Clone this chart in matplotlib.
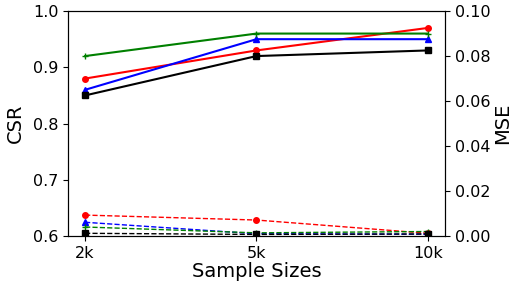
import matplotlib
matplotlib.use("Agg")
import matplotlib.pyplot as plt

sizes = ["2k", "5k", "10k"]

# CSR (left axis, solid)
csr_red = [0.88, 0.93, 0.97]
csr_blue = [0.86, 0.95, 0.95]
csr_green = [0.92, 0.96, 0.96]
csr_black = [0.85, 0.92, 0.93]

# MSE (right axis, dashed)
mse_red = [0.0093, 0.0071, 0.0012]
mse_blue = [0.0061, 0.0010, 0.0008]
mse_green = [0.0040, 0.0014, 0.0020]
mse_black = [0.0012, 0.0007, 0.0009]

styles = [("red", "o"), ("blue", "^"), ("green", "+"), ("black", "s")]
csr_all = [csr_red, csr_blue, csr_green, csr_black]
mse_all = [mse_red, mse_blue, mse_green, mse_black]

fig = plt.figure(figsize=(5.15, 2.84), dpi=100)
ax = fig.add_axes([0.132, 0.169, 0.732, 0.792])
ax2 = ax.twinx()

x = range(len(sizes))
for (c, m), ys in zip(styles, csr_all):
    ax.plot(x, ys, color=c, marker=m, markersize=4, linewidth=1.5)
for (c, m), ys in zip(styles, mse_all):
    ax2.plot(x, ys, color=c, marker=m, markersize=4, linewidth=1, linestyle="--")

ax.set_xlim(-0.1, 2.1)
ax.set_ylim(0.6, 1.0)
ax.set_yticks([0.6, 0.7, 0.8, 0.9, 1.0])
ax2.set_ylim(0, 0.1)
ax2.set_yticks([0, 0.02, 0.04, 0.06, 0.08, 0.10])
ax2.set_yticklabels(["0.00", "0.02", "0.04", "0.06", "0.08", "0.10"])
ax.set_xticks(list(x))
ax.set_xticklabels(sizes)

ax.tick_params(labelsize=11.5)
ax2.tick_params(labelsize=11.5)
ax.set_xlabel("Sample Sizes", fontsize=14, labelpad=1)
ax.set_ylabel("CSR", fontsize=14, labelpad=6)
ax2.set_ylabel("MSE", fontsize=14, labelpad=2)

fig.savefig("out.png", dpi=100)
